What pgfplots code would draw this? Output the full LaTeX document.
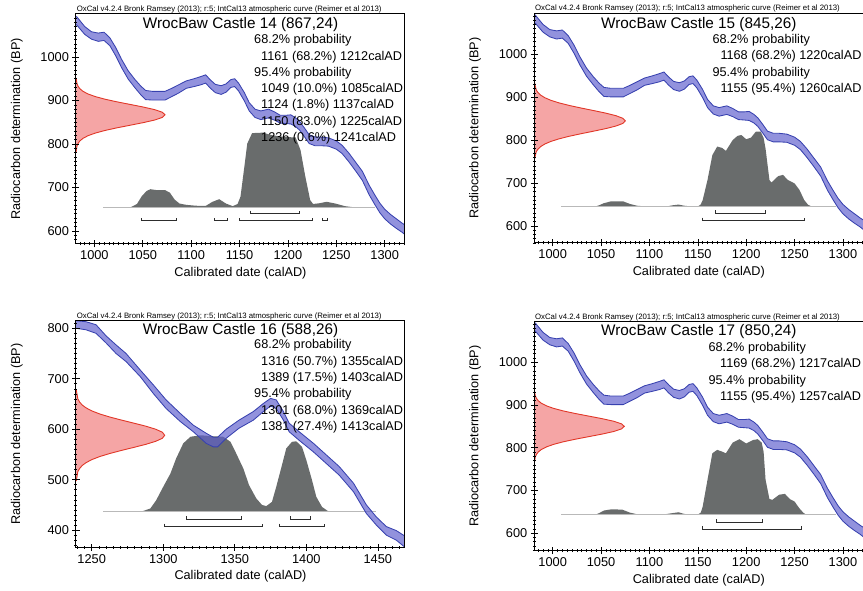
\documentclass[border=0pt]{standalone}
\usepackage{fontspec}
\setmainfont{Liberation Sans}
\usepackage{pgfplots}
\pgfplotsset{compat=1.18}
\definecolor{bandfill}{RGB}{95,95,205}
\definecolor{bandedge}{RGB}{55,65,175}
\definecolor{distgray}{RGB}{105,108,108}
\definecolor{basegray}{RGB}{185,185,185}
\definecolor{redfill}{RGB}{245,165,165}
\definecolor{redline}{RGB}{225,55,40}
\definecolor{brk}{RGB}{45,45,45}
\newcommand\probf{\fontsize{12.7}{15}\selectfont}
\newcommand\titf{\fontsize{15.3}{18}\selectfont}
\newcommand\notef{\fontsize{7.8}{9}\selectfont}
\pgfplotsset{
  oxcal/.style={
    scale only axis, width=329pt,
    tick pos=left, tick align=center,
    major tick length=7pt, minor tick length=3pt,
    axis line style={line width=1pt},
    every tick/.style={black, line width=0.6pt},
    tick label style={font=\fontsize{12.8}{15}\selectfont},
    /pgf/number format/assume math mode=true,
    /pgf/number format/1000 sep={},
    xlabel={Calibrated date (calAD)},
    ylabel={Radiocarbon determination (BP)},
    label style={font=\fontsize{12.7}{15}\selectfont},
    xlabel style={at={(axis description cs:0.5,-0.128)}, anchor=center},
    ylabel style={at={(axis description cs:-0.18,0.5)}, anchor=center},
    clip mode=individual, axis on top,
  },
  band/.style={draw=bandedge, line width=0.85pt, fill=bandfill, fill opacity=0.68},
  dist/.style={draw=none, fill=distgray},
  base/.style={draw=basegray, line width=0.8pt},
  brack/.style={draw=brk, line width=0.9pt},
  redd/.style={draw=redline, line width=0.9pt, fill=redfill},
}
\newcommand\note{\node[anchor=south west, inner sep=0.6pt, font=\notef] at (axis description cs:0,1) {OxCal v4.2.4 Bronk Ramsey (2013); r:5; IntCal13 atmospheric curve (Reimer et al 2013)};}
\newcommand\calcurve{%
\addplot[band] coordinates {(978,1096)(982,1092)(990,1070)(997,1058)(1004,1055)(1010,1057)(1016,1044)(1022,1022)(1028,995)(1035,968)(1042,948)(1048,933)(1053,923)(1060,921)(1073,921)(1080,928)(1087,936)(1095,945)(1103,950)(1110,955)(1115,959)(1120,947)(1125,937)(1131,934)(1136,938)(1141,948)(1145,950)(1149,940)(1155,918)(1160,895)(1166,880)(1172,876)(1180,880)(1186,874)(1192,866)(1198,866)(1203,867)(1208,860)(1212,852)(1217,837)(1222,821)(1228,816)(1234,816)(1242,814)(1250,807)(1256,797)(1263,779)(1270,758)(1277,737)(1284,705)(1290,682)(1295,664)(1300,650)(1306,638)(1312,628)(1318,618)(1325,608)
(1325,584)(1318,597)(1312,606)(1306,616)(1300,628)(1295,642)(1290,660)(1284,683)(1277,716)(1270,738)(1263,759)(1256,778)(1250,788)(1242,795)(1234,796)(1228,796)(1222,801)(1217,817)(1212,832)(1208,840)(1203,846)(1198,847)(1192,848)(1186,855)(1180,860)(1172,856)(1166,861)(1160,876)(1155,899)(1149,922)(1145,932)(1141,930)(1136,919)(1131,914)(1125,918)(1120,928)(1115,940)(1110,936)(1103,932)(1095,928)(1087,917)(1080,909)(1073,901)(1060,901)(1053,902)(1048,913)(1042,929)(1035,949)(1028,976)(1022,1003)(1016,1026)(1010,1038)(1004,1036)(997,1041)(990,1052)(982,1073)(978,1078)} -- cycle;}
\begin{document}
\begin{tikzpicture}
\useasboundingbox (0,0) rectangle (863pt,590pt);
% ---------------- Panel 1
\begin{axis}[oxcal, at={(76pt,346pt)}, anchor=south west, height=230.5pt,
  xmin=981, xmax=1321, ymin=570, ymax=1100,
  xtick={1000,1050,...,1300}, ytick={600,700,...,1000},
  minor xtick={985,990,...,1320}, minor ytick={580,590,...,1090}]
\addplot[redd] coordinates {(978,783)(981.2,783)(982.0,795)(983.1,801)(985.0,807)(988.3,813)(993.4,819)(1000.9,825)(1010.9,831)(1023.1,837)(1036.8,843)(1050.4,849)(1062.2,855)(1070.2,861)(1073,867)(1070.2,873)(1062.2,879)(1050.4,885)(1036.8,891)(1023.1,897)(1010.9,903)(1000.9,909)(993.4,915)(988.3,921)(985.0,927)(983.1,933)(982.0,939)(981.2,951)(978,951)} -- cycle;
\addplot[dist] coordinates {(1038,655)(1044,662)(1049,680)(1054,692)(1058,696)(1064,694)(1073,694)(1078,688)(1083,672)(1088,663)(1095,660)(1105,658)(1115,657.5)(1122,667)(1129,673)(1136,663)(1143,657)(1148,662)(1151,679)(1155,748)(1158,801)(1163,825)(1174,826)(1184,820)(1197,816)(1208,815)(1213,786)(1218,725)(1223,671)(1226,662)(1232,663.5)(1240,667)(1249,663)(1259,657)(1266,655)} -- cycle;
\addplot[base] coordinates {(1009,655)(1290,655)};
\addplot[brack] coordinates {(1161,647)(1161,641)(1212,641)(1212,647)};
\addplot[brack] coordinates {(1049,629)(1049,623)(1085,623)(1085,629)};
\addplot[brack] coordinates {(1124,629)(1124,623)(1137,623)(1137,629)};
\addplot[brack] coordinates {(1150,629)(1150,623)(1225,623)(1225,629)};
\addplot[brack] coordinates {(1236,629)(1236,623)(1241,623)(1241,629)};
\calcurve
\note
\node[font=\titf, yshift=-11.5pt] at (axis description cs:0.5,1) {WrocBaw Castle 14 (867,24)};
\node[font=\probf, anchor=west, inner sep=0pt, xshift=178pt, yshift=-27pt] at (axis description cs:0,1) {68.2\% probability};
\node[font=\probf, anchor=west, inner sep=0pt, xshift=185pt, yshift=-43.3pt] at (axis description cs:0,1) {1161 (68.2\%) 1212calAD};
\node[font=\probf, anchor=west, inner sep=0pt, xshift=178pt, yshift=-59.6pt] at (axis description cs:0,1) {95.4\% probability};
\node[font=\probf, anchor=west, inner sep=0pt, xshift=185pt, yshift=-75.9pt] at (axis description cs:0,1) {1049 (10.0\%) 1085calAD};
\node[font=\probf, anchor=west, inner sep=0pt, xshift=185pt, yshift=-92.2pt] at (axis description cs:0,1) {1124 (1.8\%) 1137calAD};
\node[font=\probf, anchor=west, inner sep=0pt, xshift=185pt, yshift=-108.5pt] at (axis description cs:0,1) {1150 (83.0\%) 1225calAD};
\node[font=\probf, anchor=west, inner sep=0pt, xshift=185pt, yshift=-124.8pt] at (axis description cs:0,1) {1236 (0.6\%) 1241calAD};
\end{axis}
% ---------------- Panel 2
\begin{axis}[oxcal, at={(534.3pt,347pt)}, anchor=south west, height=229.7pt,
  xmin=981, xmax=1321, ymin=560, ymax=1096,
  xtick={1000,1050,...,1300}, ytick={600,700,...,1000},
  minor xtick={985,990,...,1320}, minor ytick={560,570,...,1090}]
\addplot[redd] coordinates {(978,755)(981.2,755)(983.0,773)(984.8,779)(987.6,785)(991.9,791)(998.1,797)(1006.5,803)(1017.0,809)(1029.3,815)(1042.4,821)(1055.0,827)(1065.5,833)(1072.5,839)(1075,845)(1072.5,851)(1065.5,857)(1055.0,863)(1042.4,869)(1029.3,875)(1017.0,881)(1006.5,887)(998.1,893)(991.9,899)(987.6,905)(984.8,911)(983.0,917)(981.2,935)(978,935)} -- cycle;
\addplot[dist] coordinates {(1044,645)(1048,648)(1053,653)(1060,657)(1073,657)(1080,651)(1087,647)(1095,645.5)(1118,645.5)(1124,648)(1130,649.6)(1136,647)(1142,645.5)(1150,645)(1153,650)(1155,660)(1160,707)(1165,765)(1170,785)(1175,782)(1179,775)(1186,800)(1191,810)(1195,812)(1200,802)(1205,806)(1210,820)(1215,820)(1218,805)(1220,780)(1224,707)(1226,701)(1233,716)(1238,719)(1243,707)(1250,699)(1255,684)(1260,660)(1264,649)(1268,645)} -- cycle;
\addplot[base] coordinates {(1009,645)(1293,645)};
\addplot[brack] coordinates {(1168,636)(1168,629)(1220,629)(1220,636)};
\addplot[brack] coordinates {(1155,619)(1155,612)(1260,612)(1260,619)};
\calcurve
\note
\node[font=\titf, yshift=-11.7pt] at (axis description cs:0.5,1) {WrocBaw Castle 15 (845,26)};
\node[font=\probf, anchor=west, inner sep=0pt, xshift=178pt, yshift=-27pt] at (axis description cs:0,1) {68.2\% probability};
\node[font=\probf, anchor=west, inner sep=0pt, xshift=186pt, yshift=-43.3pt] at (axis description cs:0,1) {1168 (68.2\%) 1220calAD};
\node[font=\probf, anchor=west, inner sep=0pt, xshift=178pt, yshift=-59.6pt] at (axis description cs:0,1) {95.4\% probability};
\node[font=\probf, anchor=west, inner sep=0pt, xshift=186pt, yshift=-75.9pt] at (axis description cs:0,1) {1155 (95.4\%) 1260calAD};
\end{axis}
% ---------------- Panel 3
\begin{axis}[oxcal, at={(76pt,42.7pt)}, anchor=south west, height=226.6pt,
  xmin=1239, xmax=1469, ymin=366, ymax=815,
  xtick={1250,1300,...,1450}, ytick={400,500,...,800},
  minor xtick={1240,1245,...,1465}, minor ytick={370,380,...,810}]
\addplot[redd] coordinates {(1236,498)(1239.2,498)(1240.3,516)(1241.5,522)(1243.3,528)(1246.2,534)(1250.3,540)(1255.8,546)(1262.8,552)(1270.9,558)(1279.5,564)(1287.8,570)(1294.7,576)(1299.4,582)(1301,588)(1299.4,594)(1294.7,600)(1287.8,606)(1279.5,612)(1270.9,618)(1262.8,624)(1255.8,630)(1250.3,636)(1246.2,642)(1243.3,648)(1241.5,654)(1240.3,660)(1239.2,678)(1236,678)} -- cycle;
\addplot[dist] coordinates {(1280,436.4)(1286,438)(1291,443)(1295,459)(1300,486)(1305,512)(1309,542)(1314,572)(1319,585)(1326,588)(1335,586)(1342,585)(1347,575)(1351,552)(1356,522)(1360,489)(1365,463)(1369,450)(1372,447.6)(1376,456)(1379,486)(1383,529)(1386,562)(1390,575)(1393,576)(1397,565)(1400,539)(1404,499)(1407,466)(1411,446)(1415,438)(1420,436.4)} -- cycle;
\addplot[base] coordinates {(1258,436.4)(1449,436.4)};
\addplot[brack] coordinates {(1316,428)(1316,422)(1355,422)(1355,428)};
\addplot[brack] coordinates {(1389,428)(1389,422)(1403,422)(1403,428)};
\addplot[brack] coordinates {(1301,413)(1301,407)(1369,407)(1369,413)};
\addplot[brack] coordinates {(1381,413)(1381,407)(1413,407)(1413,413)};
\addplot[band] coordinates {(1236,817)(1239,815)(1246,813)(1253,807)(1260,785)(1267,767)(1274,750)(1284,717)(1293,688)(1302,658)(1312,631)(1321,608)(1330,592)(1335,584)(1338,584)(1344,600)(1353,618)(1363,635)(1370,651)(1375,661)(1379,658)(1384,635)(1388,612)(1395,595)(1405,572)(1414,549)(1423,526)(1433,493)(1442,450)(1449,426)(1456,407)(1463,399)(1469,388)(1475,378)
(1475,355)(1469,366)(1463,380)(1456,390)(1449,410)(1442,433)(1433,476)(1423,509)(1414,532)(1405,555)(1395,578)(1388,595)(1384,618)(1379,641)(1375,646)(1370,635)(1363,618)(1353,602)(1344,582)(1338,565)(1335,565)(1330,572)(1321,595)(1312,615)(1302,641)(1293,671)(1284,704)(1274,734)(1267,750)(1260,771)(1253,790)(1246,797)(1239,800)(1236,802)} -- cycle;
\note
\node[font=\titf, yshift=-10pt] at (axis description cs:0.5,1) {WrocBaw Castle 16 (588,26)};
\node[font=\probf, anchor=west, inner sep=0pt, xshift=178pt, yshift=-25pt] at (axis description cs:0,1) {68.2\% probability};
\node[font=\probf, anchor=west, inner sep=0pt, xshift=185pt, yshift=-41.3pt] at (axis description cs:0,1) {1316 (50.7\%) 1355calAD};
\node[font=\probf, anchor=west, inner sep=0pt, xshift=185pt, yshift=-57.6pt] at (axis description cs:0,1) {1389 (17.5\%) 1403calAD};
\node[font=\probf, anchor=west, inner sep=0pt, xshift=178pt, yshift=-73.9pt] at (axis description cs:0,1) {95.4\% probability};
\node[font=\probf, anchor=west, inner sep=0pt, xshift=185pt, yshift=-90.2pt] at (axis description cs:0,1) {1301 (68.0\%) 1369calAD};
\node[font=\probf, anchor=west, inner sep=0pt, xshift=185pt, yshift=-106.5pt] at (axis description cs:0,1) {1381 (27.4\%) 1413calAD};
\end{axis}
% ---------------- Panel 4
\begin{axis}[oxcal, at={(534.3pt,39.3pt)}, anchor=south west, height=229pt,
  xmin=981, xmax=1321, ymin=559, ymax=1095,
  xtick={1000,1050,...,1300}, ytick={600,700,...,1000},
  minor xtick={985,990,...,1320}, minor ytick={560,570,...,1090}]
\addplot[redd] coordinates {(978,766)(981.2,766)(982.0,778)(983.1,784)(985.1,790)(988.4,796)(993.6,802)(1001.1,808)(1011.2,814)(1023.6,820)(1037.4,826)(1051.2,832)(1063.1,838)(1071.1,844)(1074,850)(1071.1,856)(1063.1,862)(1051.2,868)(1037.4,874)(1023.6,880)(1011.2,886)(1001.1,892)(993.6,898)(988.4,904)(985.1,910)(983.1,916)(982.0,922)(981.2,934)(978,934)} -- cycle;
\addplot[dist] coordinates {(1044,643)(1048,647)(1053,653)(1061,656)(1072,655)(1080,648)(1087,644.5)(1115,644)(1124,647)(1130,649)(1136,645)(1150,643.5)(1153,648)(1155,662)(1160,725)(1165,787)(1170,795)(1175,791)(1179,787)(1186,812)(1193,820)(1200,810)(1207,818)(1212,820)(1216,812)(1218,790)(1220,725)(1224,680)(1227,678)(1234,690)(1240,692)(1245,680)(1250,674)(1255,658)(1259,648)(1262,643)} -- cycle;
\addplot[base] coordinates {(1009,643)(1293,643)};
\addplot[brack] coordinates {(1169,633)(1169,626)(1217,626)(1217,633)};
\addplot[brack] coordinates {(1155,616)(1155,609)(1257,609)(1257,616)};
\calcurve
\note
\node[font=\titf, yshift=-10pt] at (axis description cs:0.5,1) {WrocBaw Castle 17 (850,24)};
\node[font=\probf, anchor=west, inner sep=0pt, xshift=174pt, yshift=-26.6pt] at (axis description cs:0,1) {68.2\% probability};
\node[font=\probf, anchor=west, inner sep=0pt, xshift=185.7pt, yshift=-42.9pt] at (axis description cs:0,1) {1169 (68.2\%) 1217calAD};
\node[font=\probf, anchor=west, inner sep=0pt, xshift=174pt, yshift=-59.2pt] at (axis description cs:0,1) {95.4\% probability};
\node[font=\probf, anchor=west, inner sep=0pt, xshift=185.7pt, yshift=-75.5pt] at (axis description cs:0,1) {1155 (95.4\%) 1257calAD};
\end{axis}
\end{tikzpicture}
\end{document}
